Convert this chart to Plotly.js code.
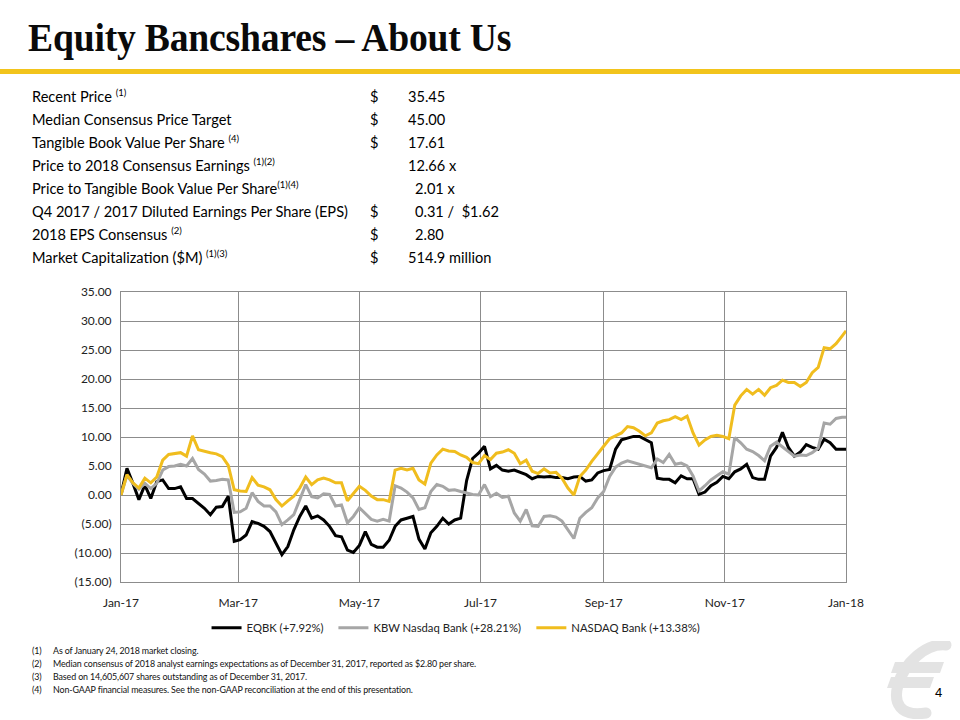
<!DOCTYPE html>
<html>
<head>
<meta charset="utf-8">
<script src="https://cdn.plot.ly/plotly-3.0.1.min.js"></script>
<style>
  html, body { margin: 0; padding: 0; background: #fff; }
  #page { position: relative; width: 960px; height: 720px; overflow: hidden; background: #fff; }
  #chart { position: absolute; left: 0; top: 0; width: 960px; height: 720px; }
  .ov { position: absolute; z-index: 5; white-space: pre; color: #000; }
  #title { left: 28px; top: 18px; font-family: "Liberation Serif", serif; font-weight: bold; font-size: 39px; line-height: 39px; letter-spacing: -0.2px; transform: scaleX(0.965); transform-origin: left top; color: #0a0a0a; }
  #rule { position: absolute; z-index: 5; left: 0; top: 69px; width: 960px; height: 5px; background: #F2C41C; }
  .tl { font-family: Lato, "Open Sans", sans-serif; font-size: 14.6px; line-height: 18px; }
  .tl sup { font-size: 9.5px; vertical-align: 0; position: relative; top: -6px; }
  .fn { font-family: Lato, sans-serif; font-size: 8.9px; line-height: 11px; letter-spacing: -0.12px; color: #111; }
  #pagenum { left: 935px; top: 685px; font-family: "Liberation Sans", Arial, sans-serif; font-size: 13px; }
</style>
</head>
<body>
<div id="page">
  <div id="chart"></div>
  <div id="title" class="ov">Equity Bancshares – About Us</div>
  <div id="rule"></div>
  <div id="table"></div>
  <div id="notes"></div>
  <svg class="ov" style="left:882px; top:641px" width="72" height="78" viewBox="0 0 72 78">
    <path d="M64 4 C44 2 22 22 16 44 C11 62 18 76 44 72" stroke="#E3E3E3" stroke-width="11" fill="none" stroke-linecap="round"/>
    <polygon points="13,21 62,21 58,32 9,32" fill="#E3E3E3"/>
    <polygon points="9,36 52,36 48,47 5,47" fill="#E3E3E3"/>
  </svg>
  <div id="pagenum" class="ov">4</div>
</div>
<script>
// ---------------- data ----------------
const dates = [
"2017-01-01","2017-01-04","2017-01-07","2017-01-10","2017-01-13","2017-01-16","2017-01-19","2017-01-22","2017-01-25","2017-01-28","2017-01-31",
"2017-02-03","2017-02-06","2017-02-09","2017-02-12","2017-02-15","2017-02-18","2017-02-21","2017-02-24","2017-02-27",
"2017-03-02","2017-03-05","2017-03-08","2017-03-11","2017-03-14","2017-03-17","2017-03-20","2017-03-23","2017-03-26","2017-03-29",
"2017-04-01","2017-04-04","2017-04-07","2017-04-10","2017-04-13","2017-04-16","2017-04-19","2017-04-22","2017-04-25","2017-04-28",
"2017-05-01","2017-05-04","2017-05-07","2017-05-10","2017-05-13","2017-05-16","2017-05-19","2017-05-22","2017-05-25","2017-05-28","2017-05-31",
"2017-06-03","2017-06-06","2017-06-09","2017-06-12","2017-06-15","2017-06-18","2017-06-21","2017-06-24","2017-06-27","2017-06-30",
"2017-07-03","2017-07-06","2017-07-09","2017-07-12","2017-07-15","2017-07-18","2017-07-21","2017-07-24","2017-07-27","2017-07-30",
"2017-08-02","2017-08-05","2017-08-08","2017-08-11","2017-08-14","2017-08-17","2017-08-20","2017-08-23","2017-08-26","2017-08-29",
"2017-09-01","2017-09-04","2017-09-07","2017-09-10","2017-09-13","2017-09-16","2017-09-19","2017-09-22","2017-09-25","2017-09-28",
"2017-10-01","2017-10-04","2017-10-07","2017-10-10","2017-10-13","2017-10-16","2017-10-19","2017-10-22","2017-10-25","2017-10-28","2017-10-31",
"2017-11-03","2017-11-06","2017-11-09","2017-11-12","2017-11-15","2017-11-18","2017-11-21","2017-11-24","2017-11-27","2017-11-30",
"2017-12-03","2017-12-06","2017-12-09","2017-12-12","2017-12-15","2017-12-18","2017-12-21","2017-12-24","2017-12-27","2017-12-30",
"2018-01-01"];

const eqbk = [
0, 4.6, 2.0, -0.8, 1.7, -0.6, 2.3, 2.6, 1.1, 1.1, 1.4,
-0.6, -0.6, -1.4, -2.3, -3.4, -2.1, -2.0, -0.2, -8.0,
-7.7, -6.9, -4.6, -4.9, -5.4, -6.3, -8.3, -10.3, -8.9, -6.0,
-3.7, -1.9, -4.0, -3.6, -4.3, -5.4, -7.0, -7.2, -9.5, -9.9,
-8.7, -6.3, -8.5, -9.0, -9.0, -7.8, -5.4, -4.3, -4.0, -3.7, -7.6,
-9.3, -6.5, -5.4, -4.0, -5.0, -4.3, -4.0, 2.5, 6.3, 7.2,
8.4, 4.5, 5.1, 4.3, 4.1, 4.3, 3.9, 3.5, 2.8, 3.2,
3.1, 3.2, 3.0, 3.0, 2.8, 3.1, 3.2, 2.4, 2.6, 3.8,
4.2, 4.4, 7.9, 9.5, 9.8, 10.1, 10.1, 9.5, 9.0, 2.9,
2.7, 2.7, 2.1, 3.3, 2.8, 2.8, 0.1, 0.5, 1.6, 2.2, 3.2,
2.8, 4.0, 4.5, 5.3, 3.0, 2.7, 2.7, 6.7, 8.2, 10.8,
8.2, 6.7, 7.4, 8.7, 8.2, 7.9, 9.6, 9.0, 7.9, 7.9,
7.9];

const kbw = [
0, 3.4, 2.0, 1.0, 2.0, 1.1, 2.0, 4.3, 4.9, 5.0, 5.3,
5.0, 6.3, 4.4, 3.6, 2.4, 2.5, 2.7, 2.6, -3.0,
-2.9, -2.3, 0.4, -1.1, -1.9, -1.9, -2.9, -5.1, -4.3, -3.4,
-0.8, 1.8, -0.3, -0.5, 0.2, 0.1, -1.9, -1.7, -4.8, -3.7,
-2.2, -3.2, -4.2, -4.5, -4.2, -4.5, 1.6, 1.2, 0.5, -0.5, -2.5,
-2.2, 0.6, 1.8, 1.5, 0.8, 0.9, 0.6, 0.3, 0.1, 0.0,
1.8, -0.3, 0.3, -0.4, -0.2, -3.1, -4.5, -2.5, -5.3, -5.4,
-3.7, -3.6, -3.8, -4.5, -6.0, -7.5, -4.0, -3.0, -2.2, -0.5,
0.6, 3.2, 4.8, 5.5, 5.9, 5.6, 5.2, 4.9, 4.7, 6.2,
5.6, 7.0, 5.3, 5.5, 5.0, 3.3, 0.7, 1.6, 2.6, 3.3, 4.0,
3.6, 9.9, 9.0, 7.9, 7.5, 6.8, 5.9, 8.4, 9.1, 8.3,
7.6, 6.7, 6.9, 6.8, 7.3, 8.1, 12.4, 12.2, 13.2, 13.4,
13.4];

const nasdaqBank = [
0, 3.5, 2.1, 1.2, 2.9, 2.1, 3.1, 6.0, 7.0, 7.1, 7.3,
6.7, 10.2, 7.8, 7.5, 7.3, 7.1, 6.6, 5.1, 0.9,
0.7, 0.6, 3.0, 1.7, 1.4, 0.9, -0.8, -1.9, -1.0, -0.2,
1.2, 3.1, 1.8, 2.6, 2.9, 2.6, 2.1, 2.1, -1.0, 0.3,
1.5, 0.8, -0.2, -0.8, -0.8, -1.1, 4.3, 4.6, 4.3, 4.6, 2.6,
1.9, 5.5, 6.9, 7.9, 7.6, 7.5, 6.9, 6.5, 5.6, 5.4,
6.8, 6.1, 7.2, 7.4, 7.8, 7.2, 5.4, 6.0, 4.1, 3.7,
4.5, 3.8, 3.9, 2.9, 1.2, 0.0, 3.2, 4.3, 5.8, 7.2,
8.4, 9.7, 10.2, 10.7, 11.8, 11.6, 11.0, 10.2, 10.7, 12.4,
12.8, 13.0, 13.5, 13.0, 13.6, 10.7, 8.6, 9.5, 10.1, 10.3, 10.1,
9.7, 15.5, 17.1, 18.2, 17.4, 18.2, 17.2, 18.5, 18.9, 19.8,
19.4, 19.4, 18.7, 19.4, 21.1, 22.0, 25.4, 25.2, 26.1, 27.4,
28.3];

const seriesNames = ["EQBK (+7.92%)", "KBW Nasdaq Bank (+28.21%)", "NASDAQ Bank (+13.38%)"];
const yTickVals = [-15, -10, -5, 0, 5, 10, 15, 20, 25, 30, 35];
const yTickText = ["(15.00)", "(10.00)", "(5.00)", "0.00", "5.00", "10.00", "15.00", "20.00", "25.00", "30.00", "35.00"];
const xTickVals = ["2017-01-01", "2017-03-01", "2017-05-01", "2017-07-01", "2017-09-01", "2017-11-01", "2018-01-01"];
const xTickText = ["Jan-17", "Mar-17", "May-17", "Jul-17", "Sep-17", "Nov-17", "Jan-18"];

const tableLabels = ["Recent Price", "Median Consensus Price Target", "Tangible Book Value Per Share",
  "Price to 2018 Consensus Earnings", "Price to Tangible Book Value Per Share",
  "Q4 2017 / 2017 Diluted Earnings Per Share (EPS)", "2018 EPS Consensus", "Market Capitalization ($M)"];
const tableNotes = ["(1)", "", "(4)", "(1)(2)", "(1)(4)", "", "(2)", "(1)(3)"];
const tableCurrency = ["$", "$", "$", "", "", "$", "$", "$"];
const tableValues = ["35.45", "45.00", "17.61", "12.66 x", "2.01 x", "0.31 /  $1.62", "2.80", "514.9 million"];

const footnotes = [
  "As of January 24, 2018 market closing.",
  "Median consensus of 2018 analyst earnings expectations as of December 31, 2017, reported as $2.80 per share.",
  "Based on 14,605,607 shares outstanding as of December 31, 2017.",
  "Non-GAAP financial measures. See the non-GAAP reconciliation at the end of this presentation."];

// ---------------- text blocks ----------------
const table = document.getElementById('table');
tableLabels.forEach((lab, i) => {
  const top = 88 + i * 23.0;
  const l = document.createElement('div');
  l.className = 'ov tl';
  l.style.left = '32px'; l.style.top = top + 'px';
  const sep = (i === 4) ? '' : ' ';
  l.innerHTML = lab + (tableNotes[i] ? sep + '<sup>' + tableNotes[i] + '</sup>' : '');
  table.appendChild(l);
  if (tableCurrency[i]) {
    const c = document.createElement('div');
    c.className = 'ov tl';
    c.style.left = '370px'; c.style.top = top + 'px';
    c.textContent = tableCurrency[i];
    table.appendChild(c);
  }
  const v = document.createElement('div');
  v.className = 'ov tl';
  const oneDigit = /^\d\./.test(tableValues[i]);
  v.style.left = (oneDigit ? 415 : 408) + 'px'; v.style.top = top + 'px';
  v.textContent = tableValues[i];
  table.appendChild(v);
});

const notes = document.getElementById('notes');
footnotes.forEach((t, i) => {
  const top = 644.5 + i * 13.2;
  const n = document.createElement('div');
  n.className = 'ov fn'; n.style.left = '32px'; n.style.top = top + 'px';
  n.textContent = '(' + (i + 1) + ')';
  notes.appendChild(n);
  const d = document.createElement('div');
  d.className = 'ov fn'; d.style.left = '53px'; d.style.top = top + 'px';
  d.textContent = t;
  notes.appendChild(d);
});

// ---------------- chart ----------------
const colors = ["#000000", "#A6A6A6", "#F0BD1E"];
const values = [eqbk, kbw, nasdaqBank];
const legendIds = ['legend', 'legend2', 'legend3'];
const traces = values.map((v, i) => ({
  type: 'scatter', mode: 'lines', x: dates, y: v, name: seriesNames[i],
  legend: legendIds[i],
  line: { color: colors[i], width: 3 }
}));

const legendStyle = (x) => ({
  orientation: 'h', x: x, xanchor: 'left', y: -0.158, yanchor: 'middle',
  font: { size: 11.3, color: '#222', family: 'Lato, "Open Sans", sans-serif' },
  itemwidth: 30, bgcolor: 'rgba(0,0,0,0)'
});

const gridColor = '#8C8C8C';
const layout = {
  width: 960, height: 720,
  margin: { l: 121, r: 114, t: 292, b: 138 },
  paper_bgcolor: 'rgba(0,0,0,0)', plot_bgcolor: '#fff',
  font: { family: 'Lato, "Open Sans", sans-serif', size: 12, color: '#222' },
  showlegend: true,
  legend: legendStyle(0.118),
  legend2: legendStyle(0.293),
  legend3: legendStyle(0.566),
  xaxis: {
    type: 'date', range: ['2017-01-01', '2018-01-01'],
    tickmode: 'array', tickvals: xTickVals, ticktext: xTickText,
    showgrid: true, gridcolor: gridColor, gridwidth: 1,
    showline: true, linecolor: gridColor, linewidth: 1, mirror: true,
    ticks: '', ticklabelstandoff: 10, zeroline: false,
    tickfont: { size: 12, color: '#222' }
  },
  yaxis: {
    range: [-15, 35], tickmode: 'array', tickvals: yTickVals, ticktext: yTickText,
    showgrid: true, gridcolor: gridColor, gridwidth: 1,
    showline: true, linecolor: gridColor, linewidth: 1, mirror: true,
    ticks: '', ticklabelstandoff: 6, zeroline: false,
    tickfont: { size: 12, color: '#222' }
  }
};
Plotly.newPlot('chart', traces, layout, { staticPlot: true, displayModeBar: false });
</script>
</body>
</html>
